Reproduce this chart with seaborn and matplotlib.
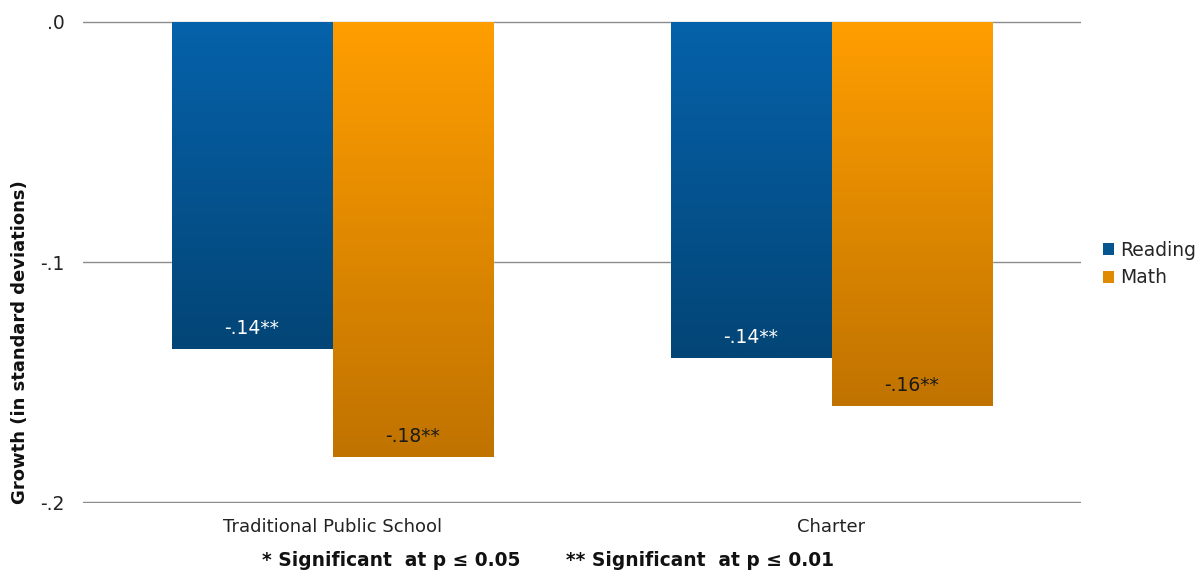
import matplotlib
matplotlib.use("Agg")
import matplotlib.pyplot as plt
import seaborn as sns
import pandas as pd
import numpy as np
from matplotlib.colors import LinearSegmentedColormap
from matplotlib.patches import Patch

categories = ["Traditional Public School", "Charter"]
series = ["Reading", "Math"]
reading = [-0.136, -0.140]
math_vals = [-0.181, -0.160]
reading_labels = ["-.14**", "-.14**"]
math_labels = ["-.18**", "-.16**"]
yticks = [0.0, -0.1, -0.2]
ytick_labels = [".0", "-.1", "-.2"]
footer = "* Significant  at p \u2264 0.05       ** Significant  at p \u2264 0.01"

df = pd.DataFrame({
    "School": categories * 2,
    "Subject": ["Reading"] * 2 + ["Math"] * 2,
    "Growth": reading + math_vals,
})

grad_colors = {"Reading": ("#0662AA", "#034576"), "Math": ("#FF9E00", "#C07300")}
flat_colors = {"Reading": "#05558F", "Math": "#E08A00"}

sns.set_theme(style="white")
plt.rcParams['font.family'] = ['DejaVu Sans']

fig = plt.figure(figsize=(12.03, 5.71), dpi=100)
ax = fig.add_axes([0.069, 0.1191, 0.8296, 0.8441])
sns.barplot(data=df, x="School", y="Growth", hue="Subject", hue_order=series,
            order=categories, palette=flat_colors, width=0.645, ax=ax,
            errorbar=None, saturation=1, legend=False)

label_sets = [reading_labels, math_labels]
text_colors = ["white", "#1a1a1a"]
for si, container in enumerate(ax.containers):
    c_top, c_bot = grad_colors[series[si]]
    cmap = LinearSegmentedColormap.from_list("g", [c_top, c_bot])
    for bi, bar in enumerate(container):
        x0, y0 = bar.get_x(), bar.get_y()
        w, h = bar.get_width(), bar.get_height()
        grad = np.linspace(0, 1, 256).reshape(-1, 1)
        im = ax.imshow(grad, extent=[x0, x0 + w, y0 + h, y0], aspect='auto',
                       cmap=cmap, origin='upper', zorder=bar.get_zorder() + 0.1,
                       interpolation='bilinear')
        im.set_clip_path(bar)
        ax.text(x0 + w / 2, y0 + h + 0.0085, label_sets[si][bi], ha='center',
                va='center', fontsize=13.5, color=text_colors[si],
                zorder=bar.get_zorder() + 1)

ax.set_xlim(-0.5, 1.5)
ax.set_ylim(-0.2003, 0.0003)
ax.set_yticks(yticks)
ax.set_yticklabels(ytick_labels, fontsize=13.5, color="#222222")
ax.tick_params(axis='y', pad=13, length=0)
ax.tick_params(axis='x', pad=11, length=0, labelsize=13, labelcolor="#222222")
ax.yaxis.grid(True, color="#8c8c8c", linewidth=1)
ax.set_axisbelow(True)
for s in ax.spines.values():
    s.set_visible(False)
ax.set_xlabel("")
ax.set_ylabel("")
fig.text(20 / 1203, 1 - 342 / 571, "Growth (in standard deviations)", rotation=90,
         ha='center', va='center', fontsize=13, fontweight='bold', color="#111111")

handles = [Patch(facecolor=flat_colors[s], edgecolor='none') for s in series]
fig.legend(handles, series, loc='center left', bbox_to_anchor=(0.9105, 1 - 264 / 571),
           frameon=False, fontsize=13.5, handlelength=0.6, handleheight=0.6,
           handletextpad=0.3, labelspacing=0.45, borderaxespad=0)

fig.text(0.4555, 0.019, footer, ha='center', va='center', fontsize=13.4,
         fontweight='bold', color="#111111")

fig.savefig("out.png", dpi=100)
